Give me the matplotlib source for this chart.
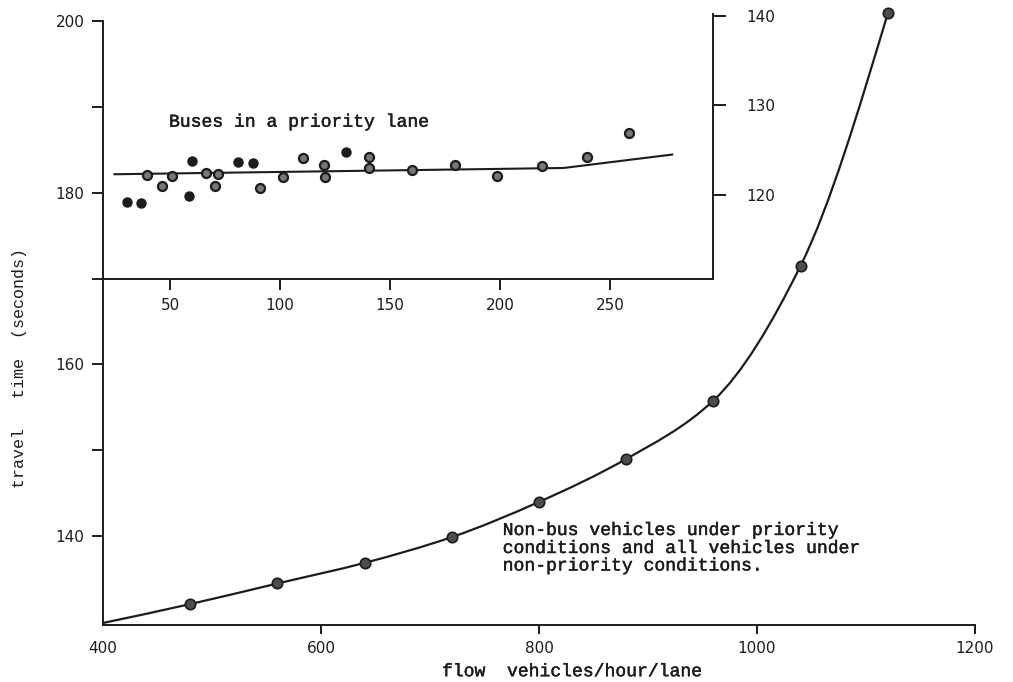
import matplotlib
matplotlib.use("Agg")
import matplotlib.pyplot as plt
import matplotlib.patheffects as pe
from matplotlib.path import Path
from matplotlib.patches import PathPatch

# ---------------- data ----------------
flow = [480, 560, 640, 720, 800, 880, 960, 1040, 1120]
travel_time = [132.1, 134.5, 136.9, 139.9, 144.0, 149.0, 155.8, 171.5, 200.9]
curve_start = (400, 129.9)

bus_solid_x = [30.3, 36.8, 58.8, 60.1, 80.8, 87.5, 130.1]
bus_solid_y = [119.2, 119.1, 119.9, 123.8, 123.7, 123.6, 124.8]
bus_ring_x = [39.6, 46.1, 50.8, 66.3, 70.4, 71.9, 90.9, 101.5, 110.3, 120.2,
              120.4, 140.3, 140.5, 159.9, 179.5, 198.7, 219.0, 239.7, 258.7]
bus_ring_y = [122.2, 121.0, 122.1, 122.4, 121.0, 122.3, 120.8, 122.0, 124.1, 123.3,
              122.0, 124.2, 123.0, 122.8, 123.3, 122.1, 123.2, 124.2, 126.9]
bus_fit_x = [24.7, 228.9, 278.3]
bus_fit_y = [122.3, 123.0, 124.5]

main_xticks = [400, 600, 800, 1000, 1200]
main_yticks = [140, 150, 160, 170, 180, 190, 200]
main_ylabels = ["140", "", "160", "", "180", "", "200"]
inset_xticks = [50, 100, 150, 200, 250]
inset_yticks = [120, 130, 140]

ink = "#1c1c1c"
W, H = 1013, 682


def fx(px):
    return px / W


def fy(py):
    return 1 - py / H


fig = plt.figure(figsize=(W / 100, H / 100), dpi=100)
fig.patch.set_facecolor("white")

# ---------------- main axes ----------------
ax = fig.add_axes([fx(103), fy(624.7), (975 - 103) / W, (624.7 - 21) / H])
ax.set_facecolor("none")
ax.set_xlim(400, 1200)
ax.set_ylim(129.7, 200)
for s in ["top", "right"]:
    ax.spines[s].set_visible(False)
for s in ["left", "bottom"]:
    ax.spines[s].set_linewidth(1.4)
    ax.spines[s].set_color(ink)

ax.set_xticks(main_xticks)
ax.set_xticklabels([str(v) for v in main_xticks])
ax.set_yticks(main_yticks)
ax.set_yticklabels(main_ylabels)
ax.tick_params(axis="y", direction="out", length=8, width=1.4, pad=5.5,
               colors=ink, labelsize=11)
ax.tick_params(axis="x", direction="out", length=6.5, width=1.4, pad=5,
               colors=ink, labelsize=11)
ax.xaxis.get_major_ticks()[0].tick1line.set_visible(False)
for lab in ax.get_xticklabels() + ax.get_yticklabels():
    lab.set_family("DejaVu Sans")

# smooth convex curve through the points (monotone cubic Hermite as Bezier)
px_ = [curve_start[0]] + flow
py_ = [curve_start[1]] + travel_time
n = len(px_)
d = [(py_[i + 1] - py_[i]) / (px_[i + 1] - px_[i]) for i in range(n - 1)]
m = [0.0] * n
for i in range(1, n - 1):
    a, b = d[i - 1], d[i]
    m[i] = 2 * a * b / (a + b) if a * b > 0 else 0.0
m[0] = (3 * d[0] - m[1]) / 2
m[-1] = (3 * d[-1] - m[-2]) / 2
verts = [(px_[0], py_[0])]
codes = [Path.MOVETO]
for i in range(n - 1):
    h = (px_[i + 1] - px_[i]) / 3.0
    verts += [(px_[i] + h, py_[i] + h * m[i]),
              (px_[i + 1] - h, py_[i + 1] - h * m[i + 1]),
              (px_[i + 1], py_[i + 1])]
    codes += [Path.CURVE4] * 3
patch = PathPatch(Path(verts, codes), facecolor="none", edgecolor=ink,
                  linewidth=1.6, clip_on=False, zorder=3)
ax.add_patch(patch)
ax.plot(flow, travel_time, linestyle="none", marker="o", markersize=7.5,
        markerfacecolor="#4d4d4d", markeredgecolor=ink, markeredgewidth=1.2,
        clip_on=False, zorder=4)

# ---------------- inset ----------------
ins = fig.add_axes([fx(103), fy(279), (713.3 - 103) / W, (279 - 14) / H])
ins.set_facecolor("none")
ins.set_xlim(19.5, 297)
ins.set_ylim(110.6, 140.2)
for s in ["top", "left"]:
    ins.spines[s].set_visible(False)
for s in ["right", "bottom"]:
    ins.spines[s].set_linewidth(1.4)
    ins.spines[s].set_color(ink)
ins.yaxis.tick_right()
ins.set_xticks(inset_xticks)
ins.set_xticklabels([str(v) for v in inset_xticks])
ins.set_yticks(inset_yticks)
ins.set_yticklabels([str(v) for v in inset_yticks])
ins.tick_params(axis="x", direction="out", length=8, width=1.4, pad=5.5,
                colors=ink, labelsize=11)
ins.tick_params(axis="y", direction="out", length=9.5, width=1.4, pad=14,
                colors=ink, labelsize=11)
for lab in ins.get_xticklabels() + ins.get_yticklabels():
    lab.set_family("DejaVu Sans")

ins.plot(bus_fit_x, bus_fit_y, color=ink, linewidth=1.5, zorder=2)
ins.plot(bus_solid_x, bus_solid_y, linestyle="none", marker="o", markersize=6.5,
         markerfacecolor=ink, markeredgecolor=ink, zorder=3)
ins.plot(bus_ring_x, bus_ring_y, linestyle="none", marker="o", markersize=6.5,
         markerfacecolor="#777777", markeredgecolor=ink, markeredgewidth=1.6,
         zorder=3)

# ---------------- texts ----------------
mono = "Liberation Mono"
ink_fx = [pe.withStroke(linewidth=0.3, foreground=ink)]
fig.text(fx(169), fy(126.7), "Buses in a priority lane", family=mono,
         fontsize=13, color=ink, ha="left", va="baseline", path_effects=ink_fx)
ann = ["Non-bus vehicles under priority",
       "conditions and all vehicles under",
       "non-priority conditions."]
for line, base in zip(ann, [535, 553, 570.5]):
    fig.text(fx(502.7), fy(base), line, family=mono, fontsize=13, color=ink,
             ha="left", va="baseline", path_effects=ink_fx)

fig.text(fx(571), fy(671.7), "flow  vehicles/hour/lane", family=mono,
         fontsize=13, color=ink, ha="center", va="center", path_effects=ink_fx)
fig.text(fx(20), fy(367.5), "travel   time  (seconds)", family=mono,
         fontsize=12, color=ink, ha="center", va="center", rotation=90)

fig.savefig("out.png", dpi=100, facecolor="white")
